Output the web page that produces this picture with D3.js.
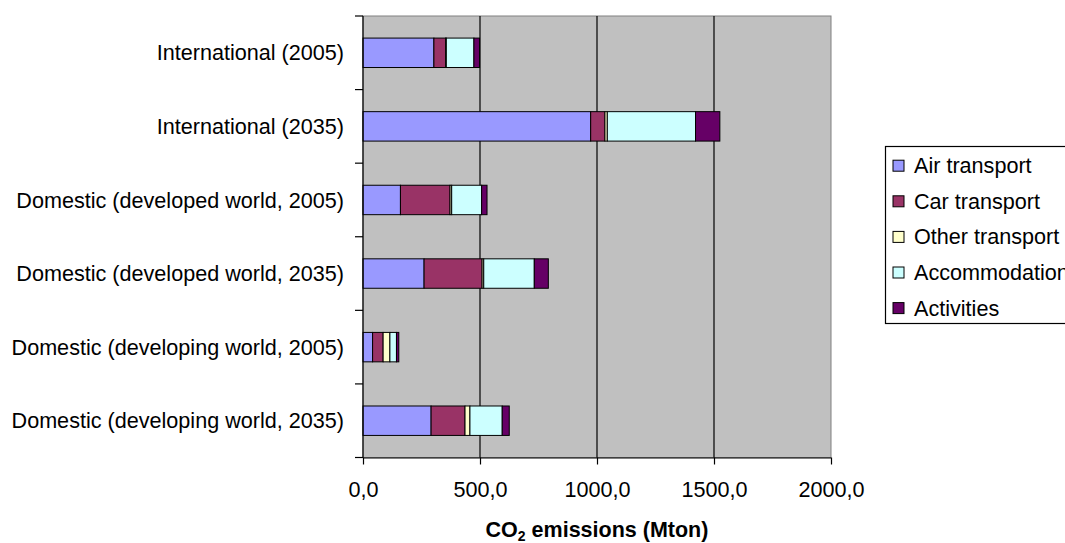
<!DOCTYPE html>
<html><head><meta charset="utf-8">
<script src="https://cdn.jsdelivr.net/npm/d3@7"></script>
<style>body{margin:0;background:#fff;overflow:hidden}svg{display:block}text{font-family:"Liberation Sans",Arial,sans-serif}</style>
</head><body>
<svg id="c" width="1065" height="543"></svg>
<script>
const categories = ["International (2005)","International (2035)","Domestic (developed world, 2005)","Domestic (developed world, 2035)","Domestic (developing world, 2005)","Domestic (developing world, 2035)"];
const seriesNames = ["Air transport","Car transport","Other transport","Accommodation","Activities"];
const seriesColors = ["#9999FF","#993366","#FFFFCC","#CCFFFF","#660066"];
const airTransport   = [303, 973, 160, 261, 41, 291];
const carTransport   = [50, 61, 212, 248, 45, 145];
const otherTransport = [3, 10, 7, 7, 29, 21];
const accommodation  = [118, 377, 128, 216, 28, 138];
const activities     = [24, 104, 23, 60, 10, 30];
const xTicks = [0, 500, 1000, 1500, 2000];

const series = [airTransport, carTransport, otherTransport, accommodation, activities];
const rows = categories.map((c,i)=>{const o={cat:c}; seriesNames.forEach((s,j)=>o[s]=series[j][i]); return o;});
const stack = d3.stack().keys(seriesNames)(rows);

const FS = 21.6;
const svg = d3.select("#c");
const L=363, R=831, T=16, B=457.5;
const x = d3.scaleLinear().domain([0,2000]).range([L,R]);
const y = d3.scaleBand().domain(categories).range([T,B]).paddingInner(0.6).paddingOuter(0.3);

svg.append("rect").attr("x",L).attr("y",T).attr("width",R-L).attr("height",B-T).attr("fill","#C0C0C0").attr("stroke","#808080").attr("stroke-width",1);
svg.append("g").selectAll("line").data(xTicks.slice(1,-1)).join("line")
  .attr("x1",d=>x(d)).attr("x2",d=>x(d)).attr("y1",T).attr("y2",B).attr("stroke","#000").attr("stroke-width",1.2);

svg.append("g").selectAll("g").data(stack).join("g").attr("fill",(d,i)=>seriesColors[i])
  .selectAll("rect").data(d=>d).join("rect")
  .attr("x",d=>x(d[0])).attr("width",d=>x(d[1])-x(d[0]))
  .attr("y",d=>y(d.data.cat)).attr("height",y.bandwidth())
  .attr("stroke","#000").attr("stroke-width",1);

// y axis with ticks at band boundaries
const bounds = categories.map(c=>y(c)-y.step()*0.3);
bounds.push(B);
svg.append("line").attr("x1",L).attr("x2",L).attr("y1",T).attr("y2",B).attr("stroke","#000").attr("stroke-width",1.2);
svg.append("g").selectAll("line").data(bounds).join("line")
  .attr("x1",L-8).attr("x2",L).attr("y1",d=>d).attr("y2",d=>d).attr("stroke","#000").attr("stroke-width",1.2);
svg.append("g").selectAll("text").data(categories).join("text")
  .attr("x",344).attr("y",d=>y(d)+y.bandwidth()/2).attr("dy","0.35em").attr("text-anchor","end")
  .attr("font-size",FS).text(d=>d);

// x axis
const xa = d3.axisBottom(x).tickValues(xTicks).tickSize(7).tickFormat(d=>d3.format(".1f")(d).replace(".",","));
const gx = svg.append("g").attr("transform",`translate(0,${B})`).call(xa);
gx.select(".domain").attr("stroke","#000").attr("stroke-width",1.2).attr("d",`M${L},0.5H${R}`);
gx.selectAll(".tick line").attr("stroke","#000").attr("stroke-width",1.2);
gx.selectAll(".tick text").attr("font-size",FS).attr("fill","#000").attr("y",32).attr("dy","0.35em").attr("font-family","Liberation Sans, Arial, sans-serif");

const title = svg.append("text").attr("x",(L+R)/2).attr("y",537).attr("text-anchor","middle").attr("font-size",21.5).attr("font-weight","bold");
title.append("tspan").text("CO");
title.append("tspan").attr("font-size",14).attr("dy",4).text("2");
title.append("tspan").attr("dy",-4).text(" emissions (Mton)");

// legend
const lg = svg.append("g");
lg.append("rect").attr("x",885.5).attr("y",146.5).attr("width",200).attr("height",177).attr("fill","#fff").attr("stroke","#000").attr("stroke-width",1.2);
const items = lg.selectAll("g").data(seriesNames).join("g").attr("transform",(d,i)=>`translate(0,${165.7+i*35.6})`);
items.append("rect").attr("x",893).attr("y",-5.5).attr("width",11).attr("height",11).attr("fill",(d,i)=>seriesColors[i]).attr("stroke","#000").attr("stroke-width",1);
items.append("text").attr("x",914).attr("dy","0.35em").attr("font-size",FS).text(d=>d);
</script>
</body></html>
